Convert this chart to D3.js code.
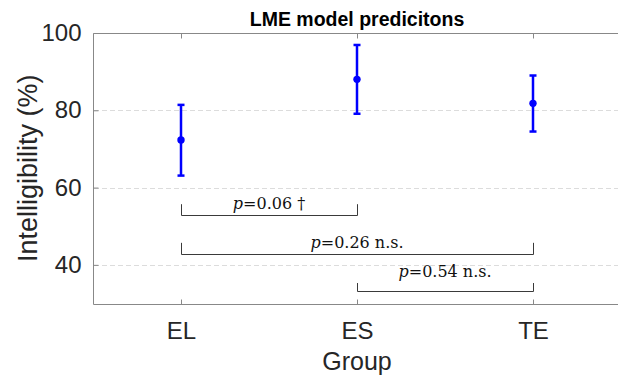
<!DOCTYPE html>
<html>
<head>
<meta charset="utf-8">
<script src="https://cdn.jsdelivr.net/npm/d3@7"></script>
<style>
  body { margin: 0; background: #fff; }
  svg { display: block; }
</style>
</head>
<body>
<svg width="618" height="375"></svg>
<script>
// groups and LME predictions (mean with CI)
var groups = ["EL", "ES", "TE"];
var means = [72.3, 88.0, 81.8];
var upper = [81.4, 96.9, 89.0];
var lower = [63.1, 79.1, 74.5];

// pairwise comparisons
var pairFrom = [1, 1, 2];
var pairTo = [2, 3, 3];
var pairLevel = [52.8, 42.8, 33.2];
var pairTickTop = [55.7, 45.7, 35.3];
var pairTextY = [54.5, 44.3, 36.9];
var pairP = ["0.06", "0.26", "0.54"];
var pairMark = ["\u2020", "n.s.", "n.s."];

var yTicks = [40, 60, 80, 100];

var svg = d3.select("svg"),
    width = +svg.attr("width"),
    height = +svg.attr("height");

var plotL = 93, plotR = 621, plotT = 33, plotB = 303.5;

var x = d3.scaleLinear().domain([0.5, 3.5]).range([plotL, plotR]);
var y = d3.scaleLinear().domain([30, 100]).range([plotB, plotT]);

var axisColor = "#888888", textColor = "#262626";

// grid lines (dashed)
svg.append("g")
  .selectAll("line")
  .data(yTicks.filter(function(d) { return d < 100; }))
  .enter().append("line")
    .attr("x1", plotL + 1).attr("x2", plotR)
    .attr("y1", function(d) { return Math.round(y(d)) + 0.5; })
    .attr("y2", function(d) { return Math.round(y(d)) + 0.5; })
    .attr("stroke", "#dcdcdc")
    .attr("stroke-width", 1)
    .attr("stroke-dasharray", "5,3");

// left axis, inward ticks
var yAxis = d3.axisLeft(y).tickValues(yTicks).tickSize(-5).tickPadding(12).tickFormat(d3.format("d"));
var gy = svg.append("g").attr("transform", "translate(" + (plotL + 0.5) + ",0)").call(yAxis);
gy.select(".domain").remove();
gy.selectAll(".tick line").attr("stroke", axisColor);
gy.selectAll(".tick text")
  .attr("fill", textColor)
  .attr("font-family", "Liberation Sans, Arial, sans-serif")
  .attr("font-size", 24);

// bottom axis, inward ticks
var xAxis = d3.axisBottom(x).tickValues([1, 2, 3]).tickSize(-5).tickPadding(17)
  .tickFormat(function(d) { return groups[d - 1]; });
var gx = svg.append("g").attr("transform", "translate(0," + (Math.round(plotB) + 0.5) + ")").call(xAxis);
gx.select(".domain").remove();
gx.selectAll(".tick line").attr("stroke", axisColor);
gx.selectAll(".tick text")
  .attr("fill", textColor)
  .attr("font-family", "Liberation Sans, Arial, sans-serif")
  .attr("font-size", 24);

// top ticks
var gt = svg.append("g").attr("transform", "translate(0," + (plotT + 0.5) + ")")
  .call(d3.axisTop(x).tickValues([1, 2, 3]).tickSize(-5).tickFormat(""));
gt.select(".domain").remove();
gt.selectAll(".tick line").attr("stroke", axisColor);

// box
svg.append("path")
  .attr("d", "M" + plotR + "," + (plotT + 0.5) + "H" + (plotL + 0.5) + "V" + (Math.round(plotB) + 0.5) + "H" + plotR)
  .attr("fill", "none")
  .attr("stroke", axisColor)
  .attr("stroke-width", 1);

// comparison brackets
var idx = d3.range(pairP.length);
var brackets = svg.append("g").selectAll("g").data(idx).enter().append("g");

brackets.append("path")
  .attr("d", function(i) {
    var x1 = Math.round(x(pairFrom[i])) + 0.5, x2 = Math.round(x(pairTo[i])) + 0.5;
    var yl = Math.round(y(pairLevel[i])) + 0.5, yt = y(pairTickTop[i]);
    return "M" + x1 + "," + yt + "V" + yl + "H" + x2 + "V" + yt;
  })
  .attr("fill", "none")
  .attr("stroke", "#3a3a3a")
  .attr("stroke-width", 1);

var lbl = brackets.append("text")
  .attr("x", function(i) { return x((pairFrom[i] + pairTo[i]) / 2); })
  .attr("y", function(i) { return y(pairTextY[i]); })
  .attr("text-anchor", "middle")
  .attr("font-family", "DejaVu Serif, serif")
  .attr("font-size", 16)
  .attr("fill", "#111");
lbl.append("tspan").attr("font-style", "italic").text("p");
lbl.append("tspan").text(function(i) { return "=" + pairP[i] + " " + pairMark[i]; });

// error bars
var blue = "#0000ff";
var eb = svg.append("g").selectAll("g").data(idx).enter().append("g");
eb.append("line")
  .attr("x1", function(i) { return x(i + 1); }).attr("x2", function(i) { return x(i + 1); })
  .attr("y1", function(i) { return y(lower[i]); }).attr("y2", function(i) { return y(upper[i]); })
  .attr("stroke", blue).attr("stroke-width", 2.5);
eb.append("line")
  .attr("x1", function(i) { return x(i + 1) - 3.5; }).attr("x2", function(i) { return x(i + 1) + 3.5; })
  .attr("y1", function(i) { return y(lower[i]); }).attr("y2", function(i) { return y(lower[i]); })
  .attr("stroke", blue).attr("stroke-width", 2.5);
eb.append("line")
  .attr("x1", function(i) { return x(i + 1) - 3.5; }).attr("x2", function(i) { return x(i + 1) + 3.5; })
  .attr("y1", function(i) { return y(upper[i]); }).attr("y2", function(i) { return y(upper[i]); })
  .attr("stroke", blue).attr("stroke-width", 2.5);
eb.append("circle")
  .attr("cx", function(i) { return x(i + 1); })
  .attr("cy", function(i) { return y(means[i]); })
  .attr("r", 3.7)
  .attr("fill", blue);

// title and axis labels
svg.append("text")
  .attr("x", x(2)).attr("y", 26)
  .attr("text-anchor", "middle")
  .attr("font-family", "Liberation Sans, Arial, sans-serif")
  .attr("font-weight", "bold")
  .attr("font-size", 19.5)
  .attr("fill", "#000")
  .text("LME model predicitons");

svg.append("text")
  .attr("x", x(2)).attr("y", 369.5)
  .attr("text-anchor", "middle")
  .attr("font-family", "Liberation Sans, Arial, sans-serif")
  .attr("font-size", 25)
  .attr("fill", textColor)
  .text("Group");

svg.append("text")
  .attr("transform", "translate(37," + y(65) + ") rotate(-90)")
  .attr("text-anchor", "middle")
  .attr("font-family", "Liberation Sans, Arial, sans-serif")
  .attr("font-size", 27)
  .attr("fill", textColor)
  .text("Intelligibility (%)");
</script>
</body>
</html>
